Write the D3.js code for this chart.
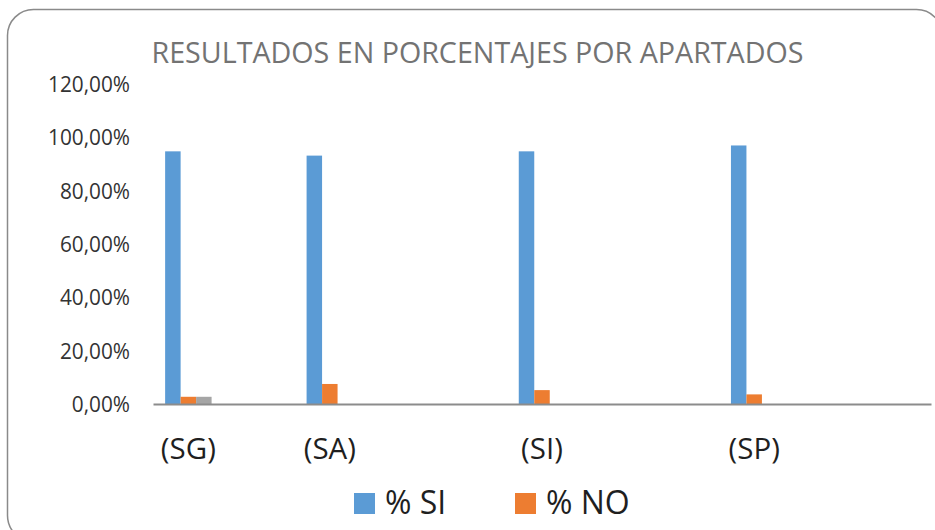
<!DOCTYPE html>
<html>
<head>
<meta charset="utf-8">
<script src="https://cdn.jsdelivr.net/npm/d3@7"></script>
<style>
  html, body { margin: 0; padding: 0; background: #ffffff; }
  svg { display: block; }
</style>
</head>
<body>
<svg id="chart" width="935" height="530"></svg>
<script>
// ---- data ----
const title = "RESULTADOS EN PORCENTAJES POR APARTADOS";
const categories = ["(SG)", "", "(SA)", "", "", "(SI)", "", "", "(SP)", "", ""];
const seriesNames = ["% SI", "% NO", ""];
const pctSI = [0.946, null, 0.930, null, null, 0.946, null, null, 0.968, null, null];
const pctNO = [0.027, null, 0.075, null, null, 0.052, null, null, 0.036, null, null];
const pctOther = [0.027, null, null, null, null, null, null, null, null, null, null];
const yTicks = [0, 0.2, 0.4, 0.6, 0.8, 1.0, 1.2];
const legendItems = ["% SI", "% NO"];
const colors = ["#5B9BD5", "#ED7D31", "#A5A5A5"];

// ---- layout ----
const svg = d3.select("#chart");
const plot = { left: 153, right: 931, top: 83.5, bottom: 404 };

// border
svg.append("rect")
  .attr("x", 7.5).attr("y", 9.5)
  .attr("width", 935).attr("height", 532)
  .attr("rx", 26).attr("ry", 26)
  .attr("fill", "#fff").attr("stroke", "#8a8a8a").attr("stroke-width", 1.5);

function squish(sel, target) {
  sel.each(function () {
    d3.select(this).attr("textLength", target).attr("lengthAdjust", "spacingAndGlyphs");
  });
}
function scaleWidth(sel, k) {
  sel.each(function () {
    const w = this.getComputedTextLength();
    d3.select(this).attr("textLength", w * k).attr("lengthAdjust", "spacingAndGlyphs");
  });
}

// scales
const x0 = d3.scaleBand().domain(d3.range(categories.length)).range([plot.left, plot.right]).padding(0);
const bw = x0.bandwidth();
const barW = bw * 0.219;
const x1 = d3.scaleBand().domain(d3.range(seriesNames.length))
  .range([bw / 2 - 1.5 * barW, bw / 2 + 1.5 * barW]).padding(0);
const y = d3.scaleLinear().domain([0, 1.2]).range([plot.bottom, plot.top]);

const locale = d3.formatLocale({ decimal: ",", thousands: ".", grouping: [3], currency: ["", "€"] });
const fmt = locale.format(".2%");

// title
const t = svg.append("text")
  .attr("x", 151.5).attr("y", 62.5)
  .attr("font-family", "Open Sans")
  .attr("font-size", 30)
  .attr("fill", "#737373")
  .text(title);
squish(t, 652);

// y axis (labels only)
const yAxis = svg.append("g")
  .attr("transform", `translate(${plot.left - 23},0)`)
  .call(d3.axisLeft(y).tickValues(yTicks).tickFormat(fmt).tickSize(0).tickPadding(0));
yAxis.select(".domain").remove();
yAxis.selectAll("text")
  .attr("font-family", "Open Sans")
  .attr("font-size", 21.5)
  .attr("fill", "#333333")
  .attr("dy", "0.36em");
// width calibration: "120,00%" ~ 82px
(function () {
  let ref = null;
  yAxis.selectAll("text").each(function () { if (this.textContent === fmt(1.2)) ref = this; });
  const k = ref ? 82 / ref.getComputedTextLength() : 1;
  scaleWidth(yAxis.selectAll("text"), k);
})();

// bars
const seriesVals = [pctSI, pctNO, pctOther];
const gBars = svg.append("g");
seriesVals.forEach((vals, s) => {
  gBars.selectAll(null)
    .data(vals.map((v, i) => ({ i, v })).filter(d => d.v != null))
    .enter().append("rect")
    .attr("x", d => x0(d.i) + x1(s))
    .attr("width", x1.bandwidth())
    .attr("y", d => y(d.v))
    .attr("height", d => y(0) - y(d.v))
    .attr("fill", colors[s]);
});

// x axis
const xAxis = svg.append("g")
  .attr("transform", `translate(0,${plot.bottom})`)
  .call(d3.axisBottom(x0).tickFormat(i => categories[i]).tickSize(0).tickPadding(0));
xAxis.select(".domain").attr("stroke", "#8c8c8c").attr("stroke-width", 2);
xAxis.selectAll("text")
  .attr("font-family", "Open Sans")
  .attr("font-size", 29)
  .attr("fill", "#1f1f1f")
  .attr("dy", 0)
  .attr("y", 55);
(function () {
  let ref = null;
  xAxis.selectAll("text").each(function () { if (this.textContent === "(SG)") ref = this; });
  const k = ref ? 55 / ref.getComputedTextLength() : 1;
  xAxis.selectAll("text").filter(function () { return this.textContent !== ""; }).call(scaleWidth, k);
})();

// legend
const legendX = [354, 515];
const lg = svg.append("g");
legendItems.forEach((name, i) => {
  lg.append("rect")
    .attr("x", legendX[i]).attr("y", 493)
    .attr("width", 21).attr("height", 21)
    .attr("fill", colors[i]);
  lg.append("text")
    .attr("x", legendX[i] + 31).attr("y", 514)
    .attr("font-family", "Open Sans")
    .attr("font-size", 32)
    .attr("fill", "#1f1f1f")
    .text(name);
});
</script>
</body>
</html>
